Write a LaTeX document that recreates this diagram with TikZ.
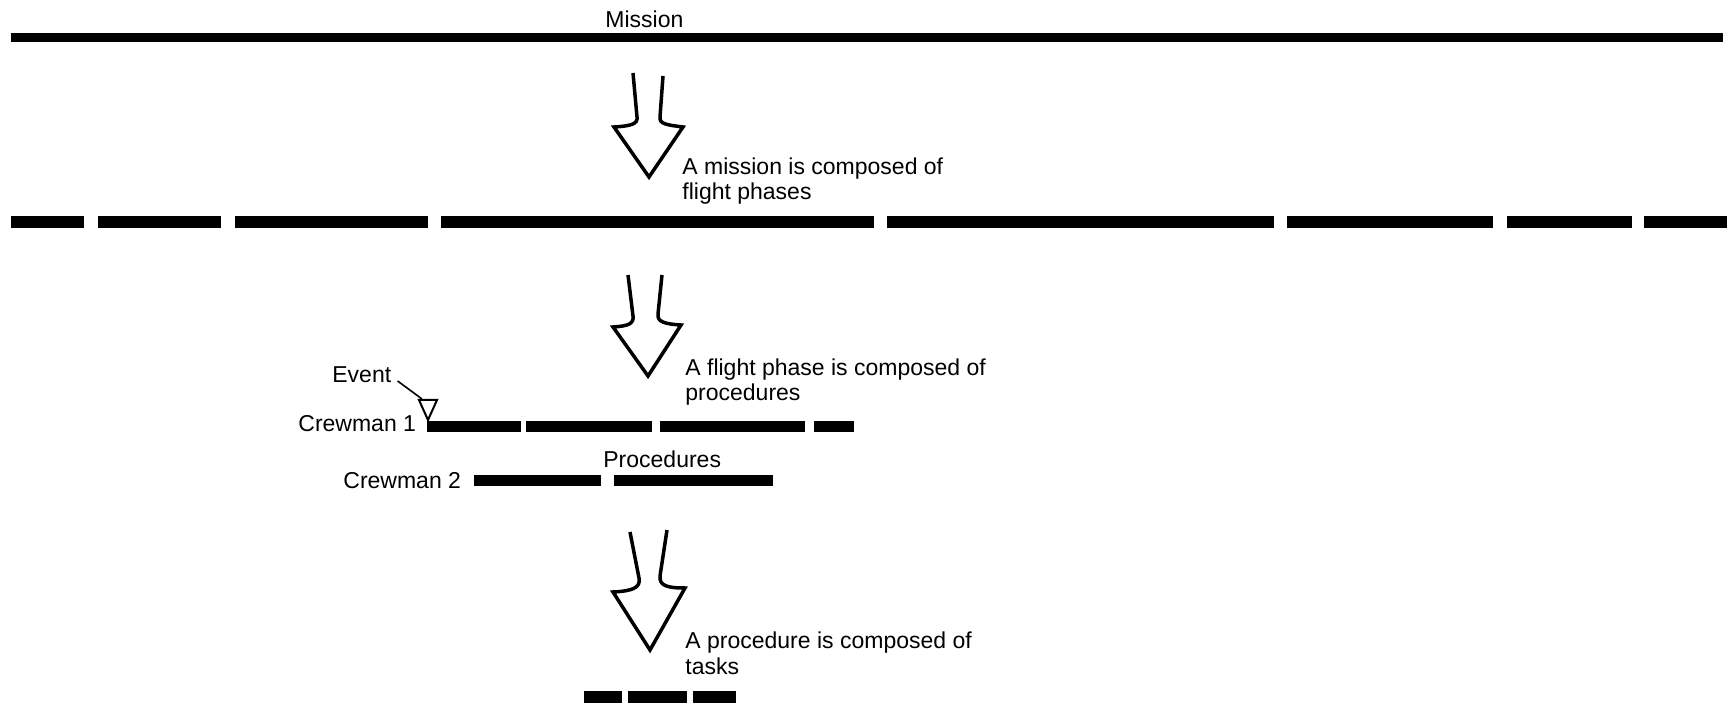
\documentclass[tikz,border=0pt]{standalone}
\usepackage{fontspec}
\setmainfont{Liberation Sans}
\begin{document}
\begin{tikzpicture}[x=0.5pt,y=-0.5pt,
  bar/.style={fill=black},
  lbl/.style={anchor=base west, inner sep=0pt, font=\fontsize{11.5}{12.5}\selectfont},
  hollow/.style={line width=1.75pt, draw=black},
  leader/.style={line width=0.8pt, draw=black},
  marker/.style={line width=1pt, draw=black},
]
\useasboundingbox (0,0) rectangle (1735,705);

% Mission level
\node[lbl] (mission) at (605,28) {Mission};
\path[bar] (11,33) rectangle (1723,42);

% arrow 1
\draw[hollow] (633,73) -- (637,117) .. controls (638,124) and (631,126) .. (614,127)
  -- (649,177) -- (683,127) .. controls (667,125) and (659,124) .. (660,117) -- (663,76);
\node[lbl] (t1a) at (682,175) {A mission is composed of};
\node[lbl] (t1b) at (682,200) {flight phases};

% flight phases
\foreach \a/\b in {11/84, 98/221, 235/428, 441/874, 887/1274, 1287/1493, 1507/1632, 1644/1727}
  \path[bar] (\a,216) rectangle (\b,228);

% arrow 2
\draw[hollow] (628,275) -- (633,316) .. controls (634,324) and (628,326) .. (613,327)
  -- (648,376) -- (681,325) .. controls (665,324) and (657,322) .. (658,314) -- (662,275);
\node[lbl] (t2a) at (685,376) {A flight phase is composed of};
\node[lbl] (t2b) at (685,401) {procedures};

% procedures
\node[lbl] (ev) at (332,383) {Event};
\coordinate (evtop) at (422,399);
\draw[marker] (419,400) -- (437,400) -- (428,420) -- cycle;
\draw[leader] ([shift={(6,-2)}]ev.base east) -- (evtop);
\node[lbl] (c1) at (298,432) {Crewman 1};
\foreach \a/\b in {427/521, 526/652, 660/805, 814/854}
  \path[bar] (\a,421) rectangle (\b,432);
\node[lbl] (proc) at (603,468) {Procedures};
\node[lbl] (c2) at (343,488) {Crewman 2};
\foreach \a/\b in {474/601, 614/773}
  \path[bar] (\a,475) rectangle (\b,486);

% arrow 3
\draw[hollow] (630,532) -- (639,578) .. controls (641,588) and (632,591) .. (613,592)
  -- (650,650) -- (685,588) .. controls (668,588) and (659,586) .. (660,576) -- (667,530);
\node[lbl] (t3a) at (685,648) {A procedure is composed of};
\node[lbl] (t3b) at (685,674) {tasks};

% tasks
\foreach \a/\b in {584/622, 628/687, 693/736}
  \path[bar] (\a,691) rectangle (\b,703);
\end{tikzpicture}
\end{document}
